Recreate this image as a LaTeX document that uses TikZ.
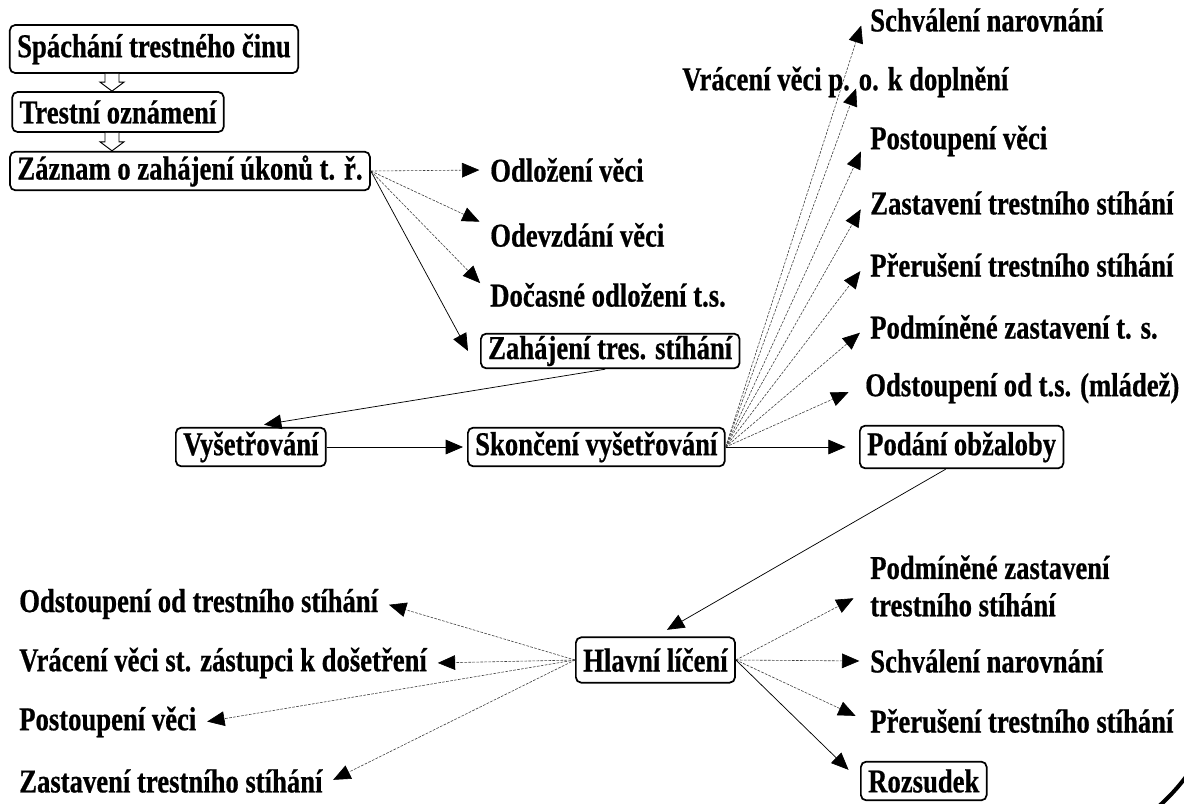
\documentclass[tikz,border=0pt]{standalone}
\usepackage{fontspec}
\setmainfont{Liberation Serif}[FakeStretch=0.8, BoldFeatures={FakeBold=0.6}]
\usetikzlibrary{arrows.meta,calc}
\newcommand\lblfont{\bfseries\fontsize{25}{27}\selectfont}
\tikzset{
  box/.style={draw, line width=1.3pt, rounded corners=4pt, inner xsep=5.5pt, inner ysep=1pt,
    minimum height=29pt, font=\lblfont},
  lbl/.style={inner xsep=6pt, inner ysep=0pt, font=\lblfont, align=left},
  tip/.style={-{Triangle[length=13pt,width=11pt,color=black]}},
  dotl/.style={tip, draw=black!75, line width=0.45pt, dash pattern=on 2pt off 1pt, shorten >=2pt},
  soll/.style={tip, line width=0.55pt},
  hollow/.style={draw, fill=white, line width=0.7pt}
}
\begin{document}
\begin{tikzpicture}[x=0.75pt,y=-0.75pt]
\useasboundingbox (0,0) rectangle (1184,803);
% boxes
\node[box, minimum height=36pt] (b1) at (154,49) {Spáchání trestného činu};
\node[box, minimum height=30pt] (b2) at (118,112) {Trestní oznámení};
\node[box] (b3) at (190,171) {Záznam o zahájení úkonů t. ř.};
\node[box, anchor=west, minimum height=26pt] (zah) at (480,351) {Zahájení tres. stíhání};
\node[box, anchor=west] (vys) at (175,447) {Vyšetřování};
\node[box, anchor=west] (sko) at (467,447) {Skončení vyšetřování};
\node[box, anchor=west, minimum height=32pt] (pod) at (859,447) {Podání obžaloby};
\node[box, anchor=west, minimum height=34pt] (hl) at (575,660) {Hlavní líčení};
\node[box, anchor=west] (roz) at (860,781) {Rozsudek};
% labels after Záznam
\node[lbl, anchor=west] (odl) at (482,170) {Odložení věci};
\node[lbl, anchor=west] (odv) at (482,235) {Odevzdání věci};
\node[lbl, anchor=west] (doc) at (482,295) {Dočasné odložení t.s.};
% labels after Skončení
\node[lbl, anchor=west] (r1) at (862,20) {Schválení narovnání};
\node[lbl, anchor=west] (r2) at (674,82) {Vrácení věci p. o. k doplnění};
\node[lbl, anchor=west] (r3) at (862,141) {Postoupení věci};
\node[lbl, anchor=west] (r4) at (862,203) {Zastavení trestního stíhání};
\node[lbl, anchor=west] (r5) at (862,265) {Přerušení trestního stíhání};
\node[lbl, anchor=west] (r6) at (862,327) {Podmíněné zastavení t. s.};
\node[lbl, anchor=west] (r7) at (857,388) {Odstoupení od t.s. (mládež)};
% labels of Hlavní líčení, left
\node[lbl, anchor=west] (l1) at (11,604) {Odstoupení od trestního stíhání};
\node[lbl, anchor=west] (l2) at (11,663) {Vrácení věci st. zástupci k došetření};
\node[lbl, anchor=west] (l3) at (11,722) {Postoupení věci};
\node[lbl, anchor=west] (l4) at (11,781) {Zastavení trestního stíhání};
% labels of Hlavní líčení, right
\node[lbl, anchor=west, font=\bfseries\fontsize{25}{28}\selectfont] (h1) at (862,586) {Podmíněné zastavení\\trestního stíhání};
\node[lbl, anchor=west] (h2) at (862,661) {Schválení narovnání};
\node[lbl, anchor=west] (h3) at (862,721) {Přerušení trestního stíhání};
\coordinate (r2tip) at (857,86);
% hollow arrows
\coordinate (xa) at (112,0);
\foreach \u/\v in {b1/b2,b2/b3}{
  \draw[hollow] ($(\u.south -| xa)+(-7,0)$) -- ($(\v.north -| xa)+(-7,-9)$) -- ($(\v.north -| xa)+(-12,-9)$)
    -- (\v.north -| xa) -- ($(\v.north -| xa)+(12,-9)$) -- ($(\v.north -| xa)+(7,-9)$) -- ($(\u.south -| xa)+(7,0)$);
}
% Záznam fan
\draw[dotl] (b3.east) -- (odl.west);
\draw[dotl] (b3.east) -- (odv.north west);
\draw[dotl] (b3.east) -- ($(doc.west)+(0,-10)$);
\draw[soll] (b3.east) -- ($(zah.west)+(-12,0)$);
\draw[soll, shorten >=10pt] ($(zah.south)+(-5,0)$) -- (vys.north);
\draw[soll, shorten >=3pt] (vys.east) -- (sko.west);
% Skončení fan
\coordinate (so) at (sko.east);
\draw[dotl] (so) -- ($(r1.west)+(0,3)$);
\draw[dotl] (so) -- (r2tip);
\draw[dotl] (so) -- ($(r3.west)+(0,8)$);
\draw[dotl] (so) -- ($(r4.west)+(0,4)$);
\draw[dotl] (so) -- ($(r5.west)+(0,4)$);
\draw[dotl] (so) -- ($(r6.west)+(0,4)$);
\draw[dotl] (so) -- ($(r7.west)+(-6,3)$);
\draw[soll, shorten >=10pt] (sko.east) -- (pod.west);
\draw[soll, shorten >=10pt] ($(pod.south)+(-16,0)$) -- (hl.north);
% Hlavní fan
\draw[dotl] (hl.west) -- (l1.east);
\draw[dotl] (hl.west) -- (l2.east);
\draw[dotl] (hl.west) -- (l3.east);
\draw[dotl] (hl.west) -- (l4.east);
\draw[dotl] (hl.east) -- ($(h1.west)+(-6,11)$);
\draw[dotl] (hl.east) -- (h2.west);
\draw[dotl] (hl.east) -- ($(h3.west)+(-4,-4)$);
\draw[soll, shorten >=12pt] (hl.east) -- (roz.west);
% page corner remnant
\draw[line width=3pt] (1158,807) .. controls (1168,798) and (1177,789) .. (1188,774);
\end{tikzpicture}
\end{document}
